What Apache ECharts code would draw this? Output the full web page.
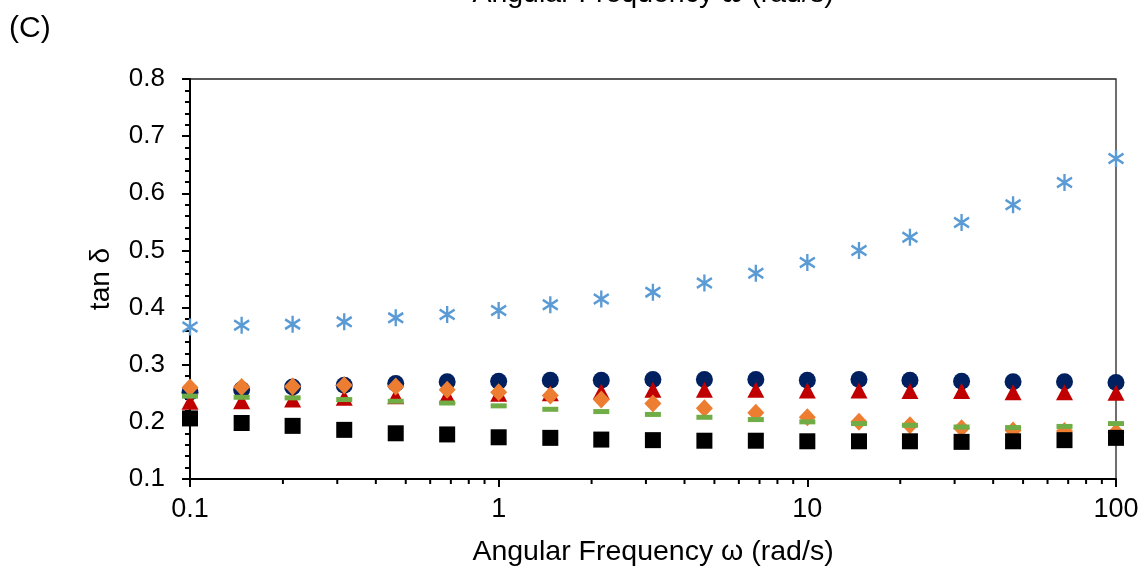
<!DOCTYPE html>
<html>
<head>
<meta charset="utf-8">
<script src="https://cdn.jsdelivr.net/npm/echarts@6/dist/echarts.min.js"></script>
<style>
html,body{margin:0;padding:0;background:#fff;}
#chart{width:1147px;height:571px;}
</style>
</head>
<body>
<div id="chart"></div>
<script>
// ---- data ----
var freq = [0.1, 0.147, 0.215, 0.316, 0.464, 0.681, 1, 1.47, 2.15, 3.16, 4.64, 6.81, 10, 14.7, 21.5, 31.6, 46.4, 68.1, 100];
var starVals   = [0.366, 0.369, 0.371, 0.375, 0.382, 0.388, 0.395, 0.405, 0.415, 0.427, 0.443, 0.460, 0.479, 0.500, 0.523, 0.549, 0.580, 0.619, 0.661];
var circleVals = [0.252, 0.256, 0.261, 0.264, 0.267, 0.270, 0.271, 0.273, 0.273, 0.274, 0.274, 0.274, 0.273, 0.274, 0.273, 0.271, 0.270, 0.270, 0.269];
var triVals    = [0.235, 0.236, 0.239, 0.242, 0.245, 0.246, 0.249, 0.250, 0.253, 0.256, 0.256, 0.256, 0.255, 0.255, 0.254, 0.254, 0.252, 0.252, 0.251];
var diaVals    = [0.260, 0.261, 0.262, 0.264, 0.262, 0.256, 0.252, 0.246, 0.239, 0.232, 0.224, 0.216, 0.208, 0.200, 0.194, 0.189, 0.185, 0.184, 0.182];
var dashVals   = [0.245, 0.243, 0.242, 0.239, 0.236, 0.233, 0.228, 0.222, 0.218, 0.213, 0.208, 0.204, 0.200, 0.197, 0.194, 0.191, 0.190, 0.192, 0.197];
var squareVals = [0.206, 0.198, 0.193, 0.186, 0.180, 0.178, 0.173, 0.172, 0.169, 0.168, 0.167, 0.167, 0.166, 0.166, 0.166, 0.165, 0.166, 0.168, 0.172];
var xTickLabels = {'0.1': '0.1', '1': '1', '10': '10', '100': '100'};
var xMinorTicks = [0.2,0.3,0.4,0.5,0.6,0.7,0.8,0.9, 2,3,4,5,6,7,8,9, 20,30,40,50,60,70,80,90];
var xTitle = 'Angular Frequency \u03c9 (rad/s)';
var yTitle = 'tan \u03b4';
var panelLabel = '(C)';

function pairs(vals){ return freq.map(function(f,i){ return [f, vals[i]]; }); }

var FONT = 'Liberation Sans, Arial, sans-serif';
var chart = echarts.init(document.getElementById('chart'), null, {renderer:'canvas'});
var option = {
  animation: false,
  backgroundColor: '#fff',
  grid: {left: 190, right: 31, top: 79, bottom: 92, show: true, borderColor: '#222', borderWidth: 1.3,
         containLabel: false, outerBoundsMode: 'none'},
  xAxis: [{
    type: 'log', logBase: 10, min: 0.1, max: 100, position: 'bottom',
    axisLine: {show: true, onZero: false, lineStyle: {color: '#000', width: 2}},
    axisTick: {show: true, inside: false, length: 8, lineStyle: {color: '#000', width: 2}},
    axisLabel: {show: true, margin: 17, fontSize: 27, color: '#000', fontFamily: FONT,
      formatter: function(v){ var k = String(Math.round(v*1000)/1000); return xTickLabels[k] !== undefined ? xTickLabels[k] : ''; }},
    splitLine: {show: false},
    name: xTitle, nameLocation: 'middle', nameGap: 59,
    nameTextStyle: {fontSize: 28.5, color: '#000', fontFamily: FONT}
  }, {
    type: 'log', logBase: 10, min: 0.1, max: 100, position: 'top',
    axisLine: {show: false}, axisTick: {show: false}, axisLabel: {show: false}, splitLine: {show: false},
    name: xTitle, nameLocation: 'middle', nameGap: 70,
    nameTextStyle: {fontSize: 28.5, color: '#000', fontFamily: FONT}
  }],
  yAxis: {
    type: 'value', min: 0.1, max: 0.8, interval: 0.1,
    axisLine: {show: true, onZero: false, lineStyle: {color: '#000', width: 2}},
    axisTick: {show: true, inside: false, length: 8, lineStyle: {color: '#000', width: 2}},
    minorTick: {show: true, splitNumber: 5, length: 5, lineStyle: {color: '#000', width: 2}},
    axisLabel: {margin: 25, fontSize: 26, color: '#000', fontFamily: FONT,
      formatter: function(v){ return v.toFixed(1); }},
    splitLine: {show: false},
    name: yTitle, nameLocation: 'middle', nameGap: 75, nameRotate: 90,
    nameTextStyle: {fontSize: 28, color: '#000', fontFamily: FONT}
  },
  graphic: [{
    type: 'text', left: 9, top: 14,
    style: {text: panelLabel, fontSize: 30, fill: '#000', font: '30px ' + FONT}
  }],
  series: [
    {type: 'custom', silent: true, clip: false, data: xMinorTicks.map(function(v){ return [v]; }),
     renderItem: function(params, api){
       var p = api.coord([api.value(0), 0.1]);
       return {type: 'line', shape: {x1: p[0], y1: p[1], x2: p[0], y2: p[1] + 5}, style: {stroke: '#000', lineWidth: 2}};
     }},
    {name: 'S1', type: 'scatter', data: pairs(starVals), symbol: 'path://M7,0L7,14M1,3L13,11M1,11L13,3', symbolSize: [15, 17],
     itemStyle: {color: 'rgba(0,0,0,0)', borderColor: '#5B9BD5', borderWidth: 2.5, opacity: 1}},
    {name: 'S2', type: 'scatter', data: pairs(circleVals), symbol: 'circle', symbolSize: 17, itemStyle: {color: '#002060', opacity: 1}},
    {name: 'S3', type: 'scatter', data: pairs(triVals), symbol: 'triangle', symbolSize: [17, 16], itemStyle: {color: '#C00000', opacity: 1}},
    {name: 'S4', type: 'scatter', data: pairs(diaVals), symbol: 'diamond', symbolSize: [17, 18], itemStyle: {color: '#ED7D31', opacity: 1}},
    {name: 'S5', type: 'scatter', data: pairs(dashVals), symbol: 'rect', symbolSize: [16, 5], itemStyle: {color: '#70AD47', opacity: 1}},
    {name: 'S6', type: 'scatter', data: pairs(squareVals), symbol: 'rect', symbolSize: 16, itemStyle: {color: '#000000', opacity: 1}}
  ]
};
chart.setOption(option);
</script>
</body>
</html>
